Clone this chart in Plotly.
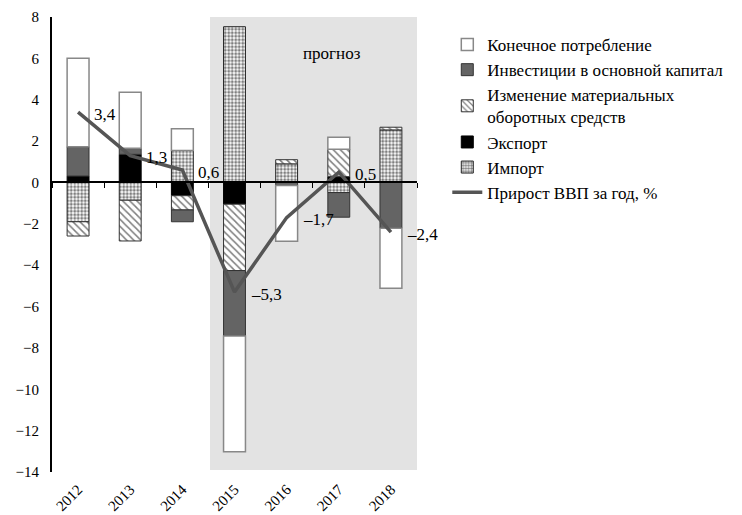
import plotly.graph_objects as go

years = ["2012", "2013", "2014", "2015", "2016", "2017", "2018"]
consumption = [4.27, 2.71, 1.05, -5.6, -2.69, 0.59, -2.91]
investment = [1.42, 0.29, -0.57, -3.16, -0.15, -1.19, -2.21]
inventory = [-0.69, -1.97, -0.69, -3.21, 0.2, 1.32, 0.13]
export = [0.31, 1.36, -0.64, -1.05, None, 0.28, None]
imports = [-1.9, -0.86, 1.55, 7.53, 0.9, -0.49, 2.54]
gdp = [3.4, 1.3, 0.6, -5.3, -1.7, 0.5, -2.4]

names = {
    "consumption": "Конечное потребление",
    "investment": "Инвестиции в основной капитал",
    "inventory": "Изменение материальных<br>оборотных средств",
    "export": "Экспорт",
    "imports": "Импорт",
    "gdp": "Прирост ВВП за год, %",
}

FONT = "Liberation Serif"
BW = 0.42

fig = go.Figure()

# stacking order (trace order) : export, import, inventory, investment, consumption
fig.add_trace(go.Bar(
    x=years, y=export, name=names["export"], width=BW, legendrank=4,
    marker=dict(color="black", line=dict(color="black", width=1)),
))
fig.add_trace(go.Bar(
    x=years, y=imports, name=names["imports"], width=BW, legendrank=5,
    marker=dict(color="white", line=dict(color="#222222", width=1),
                pattern=dict(shape=".", fgcolor="black", bgcolor="white",
                             size=3.5, solidity=0.55)),
))
fig.add_trace(go.Bar(
    x=years, y=inventory, name=names["inventory"], width=BW, legendrank=3,
    marker=dict(color="white", line=dict(color="#333333", width=1),
                pattern=dict(shape="\\", fgcolor="black", bgcolor="white",
                             size=5, solidity=0.3)),
))
fig.add_trace(go.Bar(
    x=years, y=investment, name=names["investment"], width=BW, legendrank=2,
    marker=dict(color="#646464", line=dict(color="#333333", width=1)),
))
fig.add_trace(go.Bar(
    x=years, y=consumption, name=names["consumption"], width=BW, legendrank=1,
    marker=dict(color="white", line=dict(color="#888888", width=1.5)),
))
fig.add_trace(go.Scatter(
    x=years, y=gdp, name=names["gdp"], mode="lines", legendrank=6,
    line=dict(color="#555555", width=3.5), xaxis="x2", yaxis="y",
))

labels = [f"{v:.1f}".replace(".", ",").replace("-", "–") for v in gdp]
for i, (v, t) in enumerate(zip(gdp, labels)):
    fig.add_annotation(x=i, y=v, xref="x", yref="y", text=t, showarrow=False,
                       xanchor="left", yanchor="middle", xshift=14, yshift=-2,
                       font=dict(family=FONT, size=17, color="black"))

fig.add_annotation(x=4.87, y=6.25, xref="x", yref="y", text="прогноз",
                   showarrow=False, font=dict(family=FONT, size=17, color="black"))

fig.add_shape(type="rect", xref="x", yref="y", x0=2.53, x1=6.5, y0=-13.9, y1=8.2,
              fillcolor="#e3e3e3", line=dict(width=0), layer="below")

fig.update_layout(
    width=726, height=507,
    margin=dict(l=44, r=317, t=9, b=43, autoexpand=False),
    barmode="relative",
    plot_bgcolor="white", paper_bgcolor="white",
    font=dict(family=FONT, size=15, color="black"),
    showlegend=True,
    legend=dict(x=1.083, y=0.978, xanchor="left", yanchor="top",
                font=dict(family=FONT, size=17, color="black"),
                tracegroupgap=0, bgcolor="rgba(0,0,0,0)", traceorder="normal"),
    xaxis=dict(type="category", categoryarray=years, range=[-0.5, 6.5],
               showline=False, showgrid=False, zeroline=False, ticks="",
               tickangle=-45, ticklabelstandoff=5,
               tickfont=dict(family=FONT, size=15)),
    xaxis2=dict(type="category", categoryarray=years, range=[-0.5, 6.5],
                overlaying="x", anchor="free", position=14 / 22,
                showline=True, linecolor="black", linewidth=2,
                ticks="outside", tickson="boundaries", ticklen=5,
                tickcolor="black", tickwidth=1,
                showticklabels=False, showgrid=False, zeroline=False),
    yaxis=dict(range=[-14, 8], dtick=2, showline=True, linecolor="black",
               linewidth=2, showgrid=False, zeroline=False, ticks="",
               ticklabelstandoff=8, tickfont=dict(family=FONT, size=15)),
)

fig.write_html("out.html")
